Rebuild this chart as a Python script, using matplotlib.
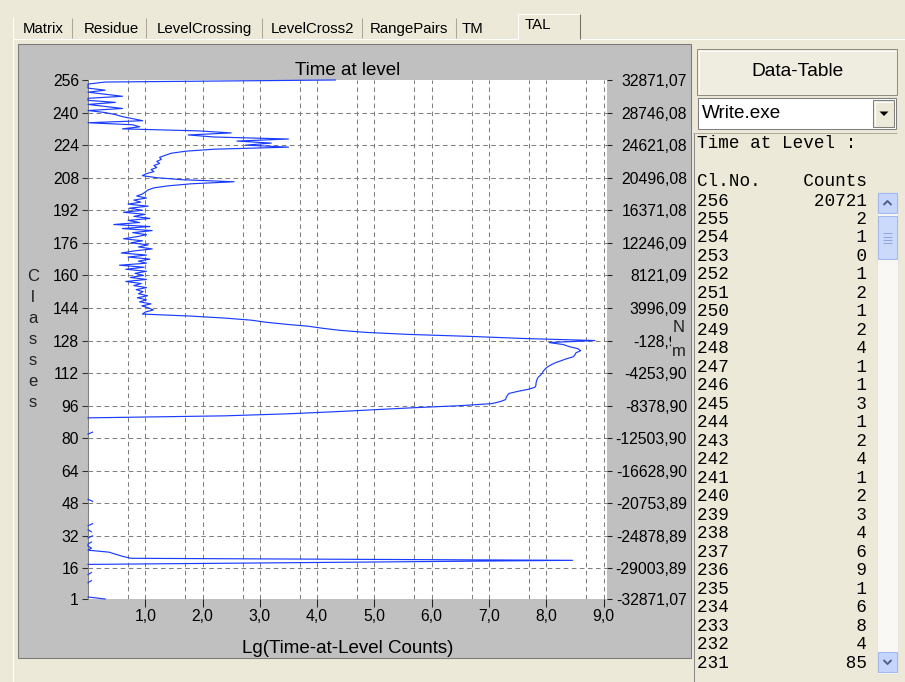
import numpy as np
import matplotlib
matplotlib.use("Agg")
import matplotlib.pyplot as plt
from matplotlib.patches import Rectangle, Polygon
from matplotlib.lines import Line2D
from matplotlib.transforms import Bbox, TransformedBbox

nan = float("nan")

# ---------------- data ----------------
tab_labels = ["Matrix", "Residue", "LevelCrossing", "LevelCross2", "RangePairs", "TM", "TAL"]
chart_title = "Time at level"
x_label = "Lg(Time-at-Level Counts)"
left_label = "Classes"
right_label = "Nm"

class_ticks = [1, 16, 32, 48, 64, 80, 96, 112, 128, 144, 160, 176, 192, 208, 224, 240, 256]
moment_tick_labels = ["-32871,07", "-29003,89", "-24878,89", "-20753,89", "-16628,90",
                      "-12503,90", "-8378,90", "-4253,90", "-128,91", "3996,09", "8121,09",
                      "12246,09", "16371,08", "20496,08", "24621,08", "28746,08", "32871,07"]
lg_ticks = [1, 2, 3, 4, 5, 6, 7, 8, 9]
lg_tick_labels = ["1,0", "2,0", "3,0", "4,0", "5,0", "6,0", "7,0", "8,0", "9,0"]
lg_half_ticks = [0.699, 1.699, 2.699, 3.699, 4.699, 5.699, 6.699, 7.699, 8.699]

# data table (class 256 .. 231)
table_classes = list(range(256, 230, -1))
table_counts = [20721, 2, 1, 0, 1, 2, 1, 2, 4, 1, 1, 3, 1, 2, 4, 1, 2, 3, 4, 6, 9, 1, 6, 8, 4, 85]

# lg(counts), classes 230 .. 90
lg_mid = [2.5, 1.75, 2.2, 3.5, 2.6, 3.2, 2.75, 3.5, 2.2, 1.7,
          1.45, 1.35, 1.25, 1.28, 1.2, 1.25, 1.15, 1.2, 1.1, 1.15,
          1.02, 0.95, 1.2, 1.65, 2.55, 1.8, 1.4, 1.15, 1.05, 1.0,
          # 200 .. 142
          0.95, 0.85, 1.02, 0.8, 0.92, 0.7, 1.05, 0.72, 0.95, 0.62,
          1.0, 0.8, 1.08, 0.7, 0.9, 0.45, 1.08, 0.6, 1.12, 0.78,
          1.02, 0.85, 0.62, 0.95, 0.75, 1.05, 0.88, 1.12, 0.8, 0.58,
          1.02, 0.7, 1.08, 0.88, 1.02, 0.55, 0.98, 0.66, 1.02, 0.82,
          0.97, 0.74, 1.02, 0.66, 0.93, 0.8, 1.02, 0.84, 0.96, 0.88,
          1.04, 0.86, 1.02, 0.9, 1.1, 0.94, 1.06, 1.14, 1.0,
          # 141 .. 128
          0.95, 1.8, 2.4, 2.85, 3.1, 3.45, 3.85, 4.1, 4.4, 4.85,
          5.6, 6.7, 7.6, 8.85,
          # 127 .. 90
          8.05, 8.3, 8.4, 8.55, 8.6, 8.52, 8.5, 8.47, 8.35, 8.25,
          8.15, 8.08, 8.02, 7.98, 7.95, 7.93, 7.9, 7.86, 7.84, 7.83,
          7.82, 7.82, 7.8, 7.68, 7.5, 7.35, 7.32, 7.3, 7.29, 7.2,
          7.05, 6.5, 5.7, 5.0, 4.3, 3.5, 2.4, 0.0]

# classes 89 .. 1 (nan = empty class)
lg_low = [nan, nan, nan, nan, nan, nan, 0.08, 0.0,
          nan, nan, nan, nan, nan, nan, nan, nan, nan, nan,
          nan, nan, nan, nan, nan, nan, nan, nan, nan, nan,
          nan, nan, nan, nan, nan, nan, nan, nan, nan, nan, nan,
          0.0, 0.08,
          nan, nan, nan, nan, nan, nan, nan, nan, nan, nan,
          0.08, 0.0, nan, 0.0, 0.06, nan, 0.08, 0.0, nan,
          0.06, 0.0, 0.0, 0.06, 0.0, 0.37, 0.48, 0.6, 0.75, 8.46, 4.2, 0.0,
          nan, nan, nan, 0.06, 0.0, nan, nan, 0.06, 0.0,
          nan, nan, nan, nan, nan, nan, 0.0, 0.3]

lg_top = np.log10(np.maximum(np.array(table_counts, dtype=float), 1.0))
lg_values = np.concatenate([lg_top, np.array(lg_mid), np.array(lg_low)])
classes = np.arange(256, 256 - len(lg_values), -1)

# ---------------- figure ----------------
plt.rcParams["font.family"] = ["Liberation Sans", "DejaVu Sans"]
plt.rcParams["lines.scale_dashes"] = False

W, H = 905, 682
BG = "#ece9d8"
fig = plt.figure(figsize=(W / 100, H / 100), dpi=100, facecolor=BG)


def fx(x):
    return x / W


def fy(y):
    return 1 - y / H


def rect(x0, y0, x1, y1, fc, ec="none", lw=0.0, z=-10):
    fig.add_artist(Rectangle((fx(x0), fy(y1)), (x1 - x0) / W, (y1 - y0) / H,
                             transform=fig.transFigure, facecolor=fc, edgecolor=ec,
                             linewidth=lw, zorder=z))


def line(xs, ys, color, lw=0.75, z=-9):
    fig.add_artist(Line2D([fx(x) for x in xs], [fy(y) for y in ys],
                          transform=fig.transFigure, color=color, linewidth=lw,
                          zorder=z, solid_capstyle="butt"))


def text(x, y, s, **kw):
    return fig.text(fx(x), fy(y), s, **kw)


# ---- tab strip ----
line([12.5, 517.5], [38.5, 38.5], "white")
line([580, 905], [38.5, 38.5], "white")
line([12.5, 12.5], [17, 682], "white")
for sx in [71.5, 145.5, 261.5, 361.5, 455.5]:
    line([sx, sx], [18, 37.5], "#aca899")
line([517.5, 517.5], [38.5, 13.5], "white")
line([517.5, 579.5], [13.5, 13.5], "white")
line([579.5, 579.5], [13.5, 38.5], "#716f64")

tab_x = [43, 111, 204, 312, 409, 472, 538]
tab_clip = TransformedBbox(Bbox.from_extents(0, fy(36.6), 1, 1), fig.transFigure)
for lab, tx in zip(tab_labels, tab_x):
    ty = 25 if lab == "TAL" else 29
    t = text(tx, ty, lab, ha="center", va="center", fontsize=10.8, color="black")
    t.set_clip_box(tab_clip)
    t.set_clip_on(True)

# ---- chart panel ----
rect(18, 44, 691, 658, "#c0c0c0", ec="#7a7a7a", lw=0.75)

# ---- right panel ----
rect(697, 49, 897, 95, "#efece0", ec="#8f8d84", lw=0.75)
line([698, 896], [50.5, 50.5], "white")
line([698.5, 698.5], [50, 94], "white")
text(797, 72, "Data-Table", ha="center", va="center", fontsize=13.8, color="black")

rect(698, 98, 896, 129, "white", ec="#7f7f7f", lw=0.75)
text(702, 113.5, "Write.exe", ha="left", va="center", fontsize=13.6, color="black")
rect(873, 100, 894, 127, BG, ec="#808080", lw=0.75, z=-8)
line([874, 893], [101.5, 101.5], "white", z=-7)
line([874.5, 874.5], [101, 126], "white", z=-7)
fig.add_artist(Polygon([[fx(879.5), fy(111.5)], [fx(888.5), fy(111.5)], [fx(884), fy(116)]],
                       closed=True, transform=fig.transFigure, facecolor="black",
                       edgecolor="none", zorder=-6))

line([693.5, 693.5], [133, 682], "#8a8a8a")
line([693, 897], [132.5, 132.5], "#b0ada0")

mono = dict(family=["Liberation Mono", "DejaVu Sans Mono"], fontsize=12.7,
            color="black", ha="left", va="center")
text(697, 144, "Time at Level :", **mono)
text(697, 181, "Cl.No.    Counts", **mono)
for i, (c, n) in enumerate(zip(table_classes, table_counts)):
    text(697, 201 + 18.48 * i, f"{c:<3}{n:>13}", **mono)

# scrollbar
rect(877, 192, 898, 674, "#f9f8f4", ec="#e2e0d6", lw=0.5)
for (y0, y1) in [(193, 213), (652, 672)]:
    rect(878, y0, 897, y1, "#c5d5fb", ec="#a3b9ef", lw=0.75, z=-8)
rect(878, 216, 897, 259, "#cbd9fb", ec="#a3b9ef", lw=0.75, z=-8)
for gy in [233.5, 236.5, 239.5, 242.5]:
    line([883, 892], [gy, gy], "#8fa6e2", z=-7)
line([883.5, 887.5, 891.5], [205, 201, 205], "#4d6185", lw=1.4, z=-7)
line([883.5, 887.5, 891.5], [660, 664, 660], "#4d6185", lw=1.4, z=-7)

# ---- plot area ----
ax = fig.add_axes([fx(88), fy(599), (607 - 88) / W, (599 - 80) / H])
ax.set_facecolor("white")
ax.plot(lg_values, classes, color="#1a3cff", linewidth=0.85, clip_on=False, zorder=3)
ax.set_xlim(0, 9.06)
ax.set_ylim(1, 256)

for side in ["top", "right", "bottom"]:
    ax.spines[side].set_visible(False)
ax.spines["left"].set_color("#808080")
ax.spines["left"].set_linewidth(0.75)

ax.set_yticks(class_ticks, labels=[str(c) for c in class_ticks])
ax.tick_params(axis="y", direction="out", length=4.3, width=0.75, color="#303030",
               pad=2.2, labelsize=11.3, labelcolor="black")
ax.set_xticks(lg_ticks, labels=lg_tick_labels)
ax.set_xticks(lg_half_ticks, minor=True)
ax.tick_params(axis="x", which="major", direction="out", length=5.8, width=0.75,
               color="#202020", pad=1.6, labelsize=11.3, labelcolor="black")
ax.tick_params(axis="x", which="minor", length=0)

dash = (0, (3.3, 2.5))
ax.grid(True, axis="x", which="both", color="#808080", linewidth=0.75, linestyle=dash)
ax.grid(True, axis="y", which="major", color="#808080", linewidth=0.75, linestyle=dash)
yt = ax.yaxis.get_major_ticks()
yt[0].gridline.set_visible(False)
yt[-1].gridline.set_visible(False)
ax.set_axisbelow(True)

ax.set_title(chart_title, fontsize=13.5, pad=3.8, color="black")
ax.set_xlabel(x_label, fontsize=13.5, labelpad=11.5, color="black")
ax.set_ylabel("\n".join(left_label), rotation=0, fontsize=12, linespacing=1.5,
              va="center", ha="center", color="#202020")
ax.yaxis.set_label_coords((33 - 88) / 519, 0.5)

ax2 = ax.twinx()
ax2.set_ylim(1, 256)
for side in ["top", "right", "bottom", "left"]:
    ax2.spines[side].set_visible(False)
ax2.set_yticks(class_ticks, labels=moment_tick_labels)
ax2.tick_params(axis="y", direction="out", length=3.6, width=0.75, color="#202020",
                pad=54, labelsize=11.3, labelcolor="black")
for lab in ax2.get_yticklabels():
    lab.set_horizontalalignment("right")
ax2.set_ylabel("\n".join(right_label), rotation=0, fontsize=12, linespacing=1.7,
               va="center", ha="center", color="#202020",
               bbox=dict(facecolor="#c0c0c0", edgecolor="none", pad=1.0))
ax2.yaxis.set_label_coords((679 - 88) / 519, 0.5)

fig.savefig("out.png", dpi=100, facecolor=BG)
